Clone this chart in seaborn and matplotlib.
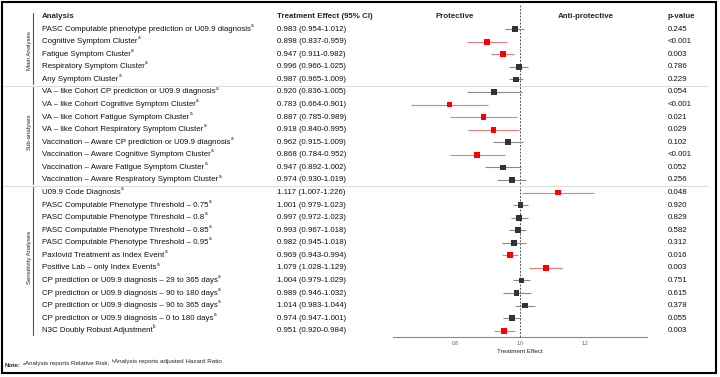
import numpy as np
import pandas as pd
import matplotlib
matplotlib.use('Agg')
import matplotlib.pyplot as plt
import matplotlib.transforms as mtransforms
from matplotlib.patches import Rectangle
import seaborn as sns

# dados
labels = [
    'PASC Computable phenotype prediction or U09.9 diagnosis',
    'Cognitive Symptom Cluster',
    'Fatigue Symptom Cluster',
    'Respiratory Symptom Cluster',
    'Any Symptom Cluster',
    'VA – like Cohort CP prediction or U09.9 diagnosis',
    'VA – like Cohort Cognitive Symptom Cluster',
    'VA – like Cohort Fatigue Symptom Cluster',
    'VA – like Cohort Respiratory Symptom Cluster',
    'Vaccination – Aware CP prediction or U09.9 diagnosis',
    'Vaccination – Aware Cognitive Symptom Cluster',
    'Vaccination – Aware Fatigue Symptom Cluster',
    'Vaccination – Aware Respiratory Symptom Cluster',
    'U09.9 Code Diagnosis',
    'PASC Computable Phenotype Threshold – 0.75',
    'PASC Computable Phenotype Threshold – 0.8',
    'PASC Computable Phenotype Threshold – 0.85',
    'PASC Computable Phenotype Threshold – 0.95',
    'Paxlovid Treatment as Index Event',
    'Positive Lab – only Index Events',
    'CP prediction or U09.9 diagnosis – 29 to 365 days',
    'CP prediction or U09.9 diagnosis – 90 to 180 days',
    'CP prediction or U09.9 diagnosis – 90 to 365 days',
    'CP prediction or U09.9 diagnosis – 0 to 180 days',
    'N3C Doubly Robust Adjustment',
]
notes = ['a'] * 24 + ['b']
est = [0.983, 0.898, 0.947, 0.996, 0.987,
       0.920, 0.783, 0.887, 0.918, 0.962, 0.868, 0.947, 0.974,
       1.117, 1.001, 0.997, 0.993, 0.982, 0.969, 1.079, 1.004, 0.989, 1.014, 0.974, 0.951]
lo = [0.954, 0.837, 0.911, 0.966, 0.965,
      0.836, 0.664, 0.785, 0.840, 0.915, 0.784, 0.892, 0.930,
      1.007, 0.979, 0.972, 0.967, 0.945, 0.943, 1.028, 0.979, 0.946, 0.983, 0.947, 0.920]
hi = [1.012, 0.959, 0.982, 1.025, 1.009,
      1.005, 0.901, 0.989, 0.995, 1.009, 0.952, 1.002, 1.019,
      1.226, 1.023, 1.023, 1.018, 1.018, 0.994, 1.129, 1.029, 1.032, 1.044, 1.001, 0.984]
pvals = ['0.245', '<0.001', '0.003', '0.786', '0.229',
         '0.054', '<0.001', '0.021', '0.029', '0.102', '<0.001', '0.052', '0.256',
         '0.048', '0.920', '0.829', '0.582', '0.312', '0.016', '0.003', '0.751', '0.615',
         '0.378', '0.055', '0.003']
groups = ['Main Analyses', 'Sub-analyses', 'Sensitivity Analyses']
group_sizes = [5, 8, 12]
ticks = [0.8, 1.0, 1.2]

df = pd.DataFrame({'label': labels, 'note': notes, 'est': est, 'lo': lo, 'hi': hi, 'p': pvals})
df['row'] = np.arange(1, len(df) + 1)
df['sig'] = df['p'].apply(lambda s: s.startswith('<') or float(s) < 0.05)
df['cor'] = np.where(df['sig'], 'sig', 'ns')

sns.set_theme(style='white')
plt.rcParams['font.family'] = ['Liberation Sans', 'DejaVu Sans']

fig = plt.figure(figsize=(7.2, 3.77), dpi=100)
ax = fig.add_axes([0.546, 0.106, 0.353, 0.883])

# intervalos de confiança e estimativas
ci_cor = np.where(df['sig'], '#ee7b7b', '#8a8a8a')
ax.hlines(df['row'], df['lo'], df['hi'], colors=ci_cor, lw=0.8, zorder=2)
sns.scatterplot(data=df, x='est', y='row', hue='cor', palette={'sig': '#ff0000', 'ns': '#333333'},
                marker='s', s=17, linewidth=0, legend=False, ax=ax, zorder=3)
ax.axvline(1.0, color='#555555', lw=0.7, ls=(0, (2, 1.5)), zorder=1)

ax.set_xlim(0.61, 1.39)
ax.set_ylim(25.5, -0.99)
ax.set_xticks(ticks)
ax.set_xticklabels([f'{t:.1f}' for t in ticks])
ax.tick_params(axis='x', labelsize=3.5, colors='#555555', length=1.5, width=0.5, pad=1.5)
ax.set_yticks([])
ax.set_ylabel('')
ax.set_xlabel('Treatment Effect', fontsize=4.5, labelpad=2, color='#222222')
for s in ['top', 'right', 'left']:
    ax.spines[s].set_visible(False)
ax.spines['bottom'].set_color('#888888')
ax.spines['bottom'].set_linewidth(0.8)

trans = mtransforms.blended_transform_factory(fig.transFigure, ax.transData)
fs = 5.7

# cabeçalhos
ax.text(42 / 720, 0, 'Analysis', transform=trans, fontsize=fs, weight='bold', va='center')
ax.text(277 / 720, 0, 'Treatment Effect (95% CI)', transform=trans, fontsize=fs, weight='bold', va='center')
ax.text(0.8, 0, 'Protective', fontsize=fs, weight='bold', va='center', ha='center')
ax.text(1.2, 0, 'Anti-protective', fontsize=fs, weight='bold', va='center', ha='center')
ax.text(668 / 720, 0, 'p-value', transform=trans, fontsize=fs, weight='bold', va='center')

for _, r in df.iterrows():
    t = ax.text(42 / 720, r['row'], r['label'], transform=trans, fontsize=fs, va='center', color='#111111')
    ax.annotate(r['note'], xy=(1, 0.7), xycoords=t, xytext=(0.2, 0), textcoords='offset points',
                fontsize=3.3, va='bottom', color='#111111')
    ax.text(277 / 720, r['row'], f"{r['est']:.3f} ({r['lo']:.3f}-{r['hi']:.3f})",
            transform=trans, fontsize=fs, va='center', color='#111111')
    ax.text(668 / 720, r['row'], r['p'], transform=trans, fontsize=fs, va='center', color='#111111')

# grupos e separadores
inicio = 1
for g, n in zip(groups, group_sizes):
    fim = inicio + n - 1
    topo = inicio - 0.4 if inicio > 1 else -0.3
    ax.plot([33 / 720, 33 / 720], [topo, fim + 0.35], transform=trans, color='#555555',
            lw=0.8, clip_on=False)
    ax.text(29 / 720, (inicio + fim) / 2 - 0.3, g, transform=trans, fontsize=4.3, rotation=90,
            ha='center', va='center', color='#222222')
    if fim < len(df):
        ax.plot([2 / 720, 708 / 720], [fim + 0.5, fim + 0.5], transform=trans, color='#dddddd',
                lw=0.8, clip_on=False)
    inicio = fim + 1

# nota de rodapé, encadeada peça a peça: (texto, tamanho, peso, altura relativa, espaço)
pecas = [('a', 3.0, 'normal', 0.45, 1.2),
         ('Analysis reports Relative Risk;', 4.5, 'normal', 0.0, 0.2),
         ('b', 3.0, 'normal', 0.45, 1.5),
         ('Analysis reports adjusted Hazard Ratio', 4.5, 'normal', 0.0, 0.2)]
ant = fig.text(5 / 720, 1 - 368 / 377, 'Note:', fontsize=4.5, weight='bold', va='bottom')
for txt, tam, peso, ylev, gap in pecas:
    ant = ax.annotate(txt, xy=(1, ylev), xycoords=ant, xytext=(gap, 0), textcoords='offset points',
                      fontsize=tam, weight=peso, va='bottom', annotation_clip=False)

fig.patches.append(Rectangle((1.5 / 720, 1 - 373 / 377), 714 / 720, 371 / 377, transform=fig.transFigure,
                             fill=False, edgecolor='black', lw=1.5))

fig.savefig('out.png', dpi=100)
